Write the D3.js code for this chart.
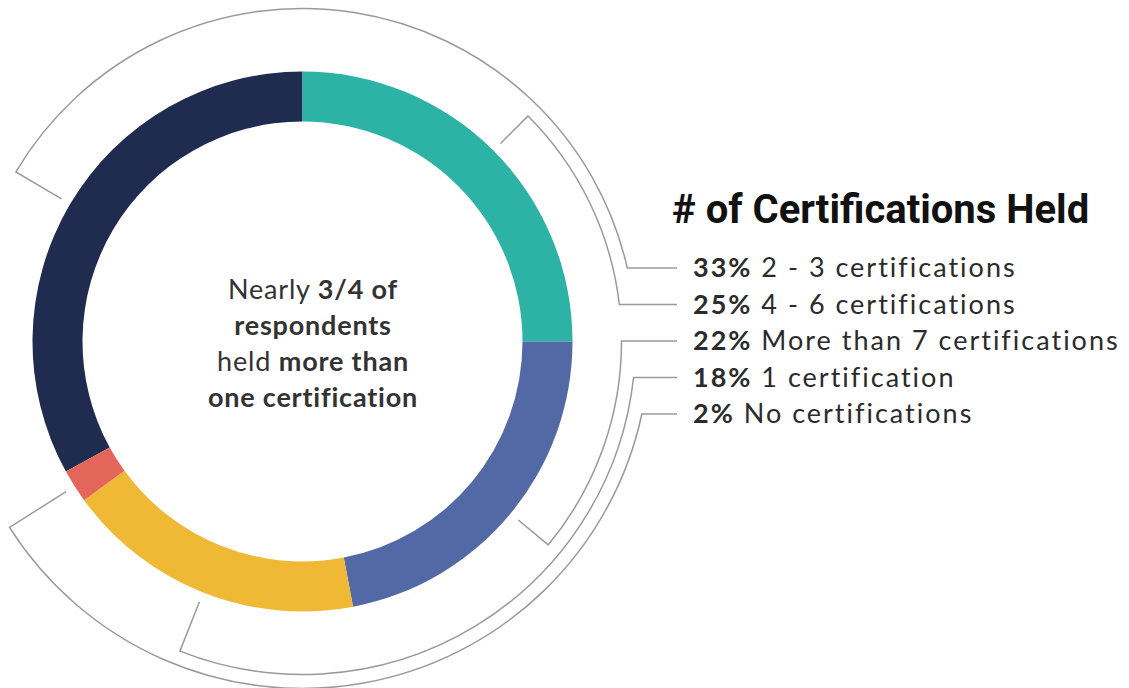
<!DOCTYPE html>
<html>
<head>
<meta charset="utf-8">
<script src="https://cdn.jsdelivr.net/npm/d3@7"></script>
<style>
  body { margin: 0; background: #fff; }
  svg { display: block; }
</style>
</head>
<body>
<svg id="chart" width="1129" height="688"></svg>
<script>
// data, legend order
const labels = ["2 - 3 certifications", "4 - 6 certifications", "More than 7 certifications", "1 certification", "No certifications"];
const values = [33, 25, 22, 18, 2];
const colors = ["#1f2c4f", "#2db3a5", "#5369a5", "#f0b935", "#e4665a"];
// order of slices round the ring, clockwise from 12 o'clock
const sliceOrder = ["4 - 6 certifications", "More than 7 certifications", "1 certification", "No certifications", "2 - 3 certifications"];
const title = "# of Certifications Held";
const centerLines = [
  [["Nearly ", false], ["3/4 of", true]],
  [["respondents", true]],
  [["held ", false], ["more than", true]],
  [["one certification", true]]
];

const cx = 302.5, cy = 341.5, inR = 220, outR = 270;
const tickR = 280;
const bracketLevel = { "4 - 6 certifications": 0, "More than 7 certifications": 0, "2 - 3 certifications": 1, "1 certification": 1, "No certifications": 2 };
const legendX = 693, legendY0 = 268, rowH = 36.5, lineEnd = 677;

const svg = d3.select("#chart");

const rows = labels.map((l, i) => ({ label: l, value: values[i], color: colors[i], row: i }));

const pie = d3.pie()
  .value(d => d.value)
  .sort((a, b) => sliceOrder.indexOf(a.label) - sliceOrder.indexOf(b.label));
const pieData = pie(rows);

const arc = d3.arc().innerRadius(inR).outerRadius(outR);

const g = svg.append("g").attr("transform", `translate(${cx},${cy})`);

g.selectAll("path.slice")
  .data(pieData)
  .enter()
  .append("path")
  .attr("class", "slice")
  .attr("d", arc)
  .attr("fill", d => d.data.color);

// brackets from each slice out to its legend row
const polar = (r, a) => [r * Math.sin(a), -r * Math.cos(a)];

pieData.forEach(d => {
  const R = 319 + 14 * bracketLevel[d.data.label];
  const mid = (d.startAngle + d.endAngle) / 2;
  const rowY = legendY0 + rowH * d.data.row - cy;
  const rowA = Math.atan2(Math.sqrt(R * R - rowY * rowY), -rowY);
  let diff = rowA - mid;
  while (diff > Math.PI) diff -= 2 * Math.PI;
  while (diff < -Math.PI) diff += 2 * Math.PI;
  const p = d3.path();
  const a = polar(tickR, mid), b = polar(R, mid);
  p.moveTo(a[0], a[1]);
  p.lineTo(b[0], b[1]);
  p.arc(0, 0, R, mid - Math.PI / 2, mid + diff - Math.PI / 2, diff < 0);
  p.lineTo(lineEnd - cx, rowY);
  g.append("path")
    .attr("d", p.toString())
    .attr("fill", "none")
    .attr("stroke", "#9a9a9a")
    .attr("stroke-width", 1.5);
});

// center text
const ct = svg.append("text")
  .attr("x", 313)
  .attr("text-anchor", "middle")
  .style("font-family", "Lato")
  .style("font-size", "27px")
  .style("letter-spacing", "0.8px")
  .attr("fill", "#333");
centerLines.forEach((line, i) => {
  line.forEach((part, j) => {
    const ts = ct.append("tspan")
      .text(part[0])
      .style("font-weight", part[1] ? 700 : 400);
    if (j === 0) ts.attr("x", 313).attr("y", 299 + 36 * i);
  });
});

// title + legend
svg.append("text")
  .attr("x", 672)
  .attr("y", 223)
  .style("font-family", "Roboto")
  .style("font-weight", 700)
  .style("font-size", "40px")
  .attr("fill", "#111")
  .text(title);

const leg = svg.selectAll("text.leg")
  .data(rows)
  .enter()
  .append("text")
  .attr("class", "leg")
  .attr("x", legendX)
  .attr("y", d => legendY0 + rowH * d.row + 9)
  .style("font-family", "Lato")
  .style("font-size", "27px")
  .style("letter-spacing", "2px")
  .attr("fill", "#2b2b2b");
leg.append("tspan").style("font-weight", 700).text(d => d.value + "%");
leg.append("tspan").text(d => " " + d.label);
</script>
</body>
</html>
